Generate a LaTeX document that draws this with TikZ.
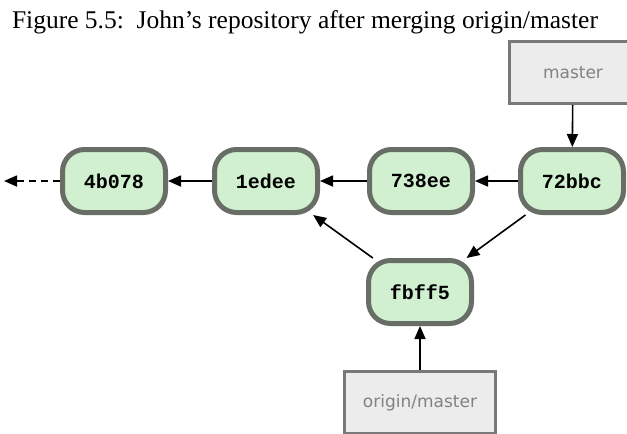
\documentclass[tikz,border=0pt]{standalone}
\usepackage{fontspec}
\setmainfont{Liberation Serif}
\newfontfamily\monob{Liberation Mono}
\newfontfamily\labfont{DejaVu Sans}
\usetikzlibrary{arrows.meta}
\definecolor{commitfill}{RGB}{208,240,208}
\definecolor{commitdraw}{RGB}{104,110,102}
\definecolor{labfill}{RGB}{236,236,236}
\definecolor{labdraw}{RGB}{120,120,120}
\definecolor{labtext}{RGB}{130,130,130}
\tikzset{
  commit/.style={draw=commitdraw, fill=commitfill, line width=5pt, rounded corners=22pt,
    minimum width=103pt, minimum height=63pt, inner sep=0pt,
    font=\monob\bfseries\fontsize{20}{24}\selectfont},
  branch/.style={draw=labdraw, fill=labfill, line width=3pt, inner sep=0pt,
    text=labtext, font=\labfont\fontsize{17}{20}\selectfont},
  conn/.style={line width=1.6pt, -{Triangle[length=13pt,width=11pt]}},
}
\begin{document}
\begin{tikzpicture}[x=1pt,y=-1pt]
\useasboundingbox (0,0) rectangle (627,434);
\clip (0,0) rectangle (627,434);
\node[anchor=base, inner sep=0pt] (title) at (305,28) {\fontsize{25.5}{30}\selectfont Figure 5.5:\ \ John's repository after merging origin/master};
\node[branch, minimum width=127pt, minimum height=62pt] (master) at (573,72.5) {master};
\node[branch, minimum width=151pt, minimum height=62pt] (omaster) at (420,402.5) {origin/master};
\node[commit] (c4b) at (114,181) {4b078};
\node[commit] (c1e) at (266,181) {1edee};
\node[commit] (c738) at (421,181) {738ee};
\node[commit] (c72) at (572,181) {72bbc};
\node[commit] (cfb) at (420,292) {fbff5};
\coordinate (tail) at (4,181);
\draw[conn] (master) -- (c72);
\draw[conn] (c72) -- (c738);
\draw[conn] (c738) -- (c1e);
\draw[conn] (c1e) -- (c4b);
\draw[conn, dash pattern=on 7pt off 5pt] (c4b) -- (tail);
\draw[conn] (c72) -- (cfb);
\draw[conn] (cfb) -- (c1e);
\draw[conn] (omaster) -- (cfb);
\end{tikzpicture}
\end{document}
